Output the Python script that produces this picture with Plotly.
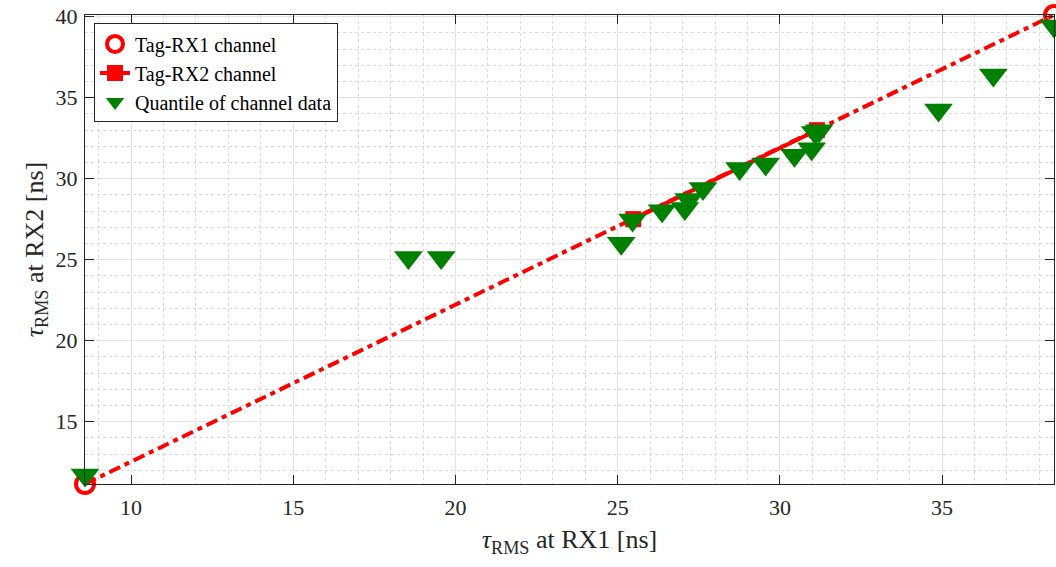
import plotly.graph_objects as go

# Extended reference line end points (Tag-RX1 channel circles)
ext_x = [8.58, 38.45]
ext_y = [11.16, 40.11]
# Quartile reference points (Tag-RX2 channel squares)
quart_x = [25.48, 31.14]
quart_y = [27.51, 33.00]
# Quantiles of channel data
q_x = [8.58, 18.55, 19.56, 25.11, 25.46, 26.37, 27.07, 27.19, 27.63, 28.76,
       29.56, 30.45, 30.98, 31.09, 31.21, 34.89, 36.58, 38.45]
q_y = [11.71, 25.14, 25.14, 26.02, 27.46, 28.03, 28.16, 28.72, 29.40, 30.63,
       30.92, 31.45, 31.85, 32.85, 32.97, 34.25, 36.41, 39.43]

x_ticks = [10, 15, 20, 25, 30, 35]
y_ticks = [15, 20, 25, 30, 35, 40]

RED = "#FF0000"
GREEN = "#008000"
FONT = "Liberation Serif, Times New Roman, serif"
AX = "#262626"

fig = go.Figure()

fig.add_trace(go.Scatter(
    x=ext_x, y=ext_y, mode="lines", showlegend=False,
    line=dict(color=RED, width=4, dash="12px,5px,5px,5px"),
    hoverinfo="skip"))

fig.add_trace(go.Scatter(
    x=ext_x, y=ext_y, mode="markers", name="Tag-RX1 channel",
    marker=dict(symbol="circle-open", size=18, color=RED,
                line=dict(width=4, color=RED)),
    cliponaxis=False))

fig.add_trace(go.Scatter(
    x=quart_x, y=quart_y, mode="lines+markers", name="Tag-RX2 channel",
    line=dict(color=RED, width=4),
    marker=dict(symbol="square", size=16, color=RED),
    cliponaxis=False))

fig.add_trace(go.Scatter(
    x=q_x, y=q_y, mode="markers", name="Quantile of channel data",
    marker=dict(symbol="triangle-down", size=25, color=GREEN,
                line=dict(width=0)),
    cliponaxis=False))

axis_common = dict(
    showline=True, linecolor=AX, linewidth=1, mirror="ticks",
    ticks="inside", ticklen=9, tickcolor=AX, tickwidth=1,
    showgrid=True, gridcolor="#E3E3E3", gridwidth=1,
    zeroline=False,
    tickfont=dict(family=FONT, size=22, color=AX),
    minor=dict(dtick=1, showgrid=True, gridcolor="#DADADA",
               griddash="dot", gridwidth=1, ticks=""),
)

fig.update_xaxes(
    range=[ext_x[0], ext_x[1]], tickvals=x_ticks,
    ticktext=[str(v) for v in x_ticks], ticklabelstandoff=4,
    title=dict(text="<i>τ</i><sub>RMS</sub> at RX1 [ns]",
               font=dict(family=FONT, size=26, color=AX), standoff=10),
    **axis_common)
fig.update_yaxes(
    range=[ext_y[0], ext_y[1]], tickvals=y_ticks,
    ticktext=[str(v) for v in y_ticks], ticklabelstandoff=2,
    title=dict(text="<i>τ</i><sub>RMS</sub> at RX2 [ns]",
               font=dict(family=FONT, size=26, color=AX), standoff=4),
    **axis_common)

fig.update_layout(
    width=1056, height=567,
    font=dict(family=FONT),
    margin=dict(l=85, r=2, t=15, b=83, autoexpand=False),
    plot_bgcolor="white", paper_bgcolor="white",
    legend=dict(x=0.0093, y=0.982, xanchor="left", yanchor="top",
                bgcolor="white", bordercolor=AX, borderwidth=1,
                font=dict(family=FONT, size=20, color="black"),
                tracegroupgap=0, itemwidth=30),
    showlegend=True,
)

fig.write_html(
    "out.html",
    config={"displayModeBar": False},
    post_script="document.body.style.margin='0';document.body.style.overflow='hidden';",
)
